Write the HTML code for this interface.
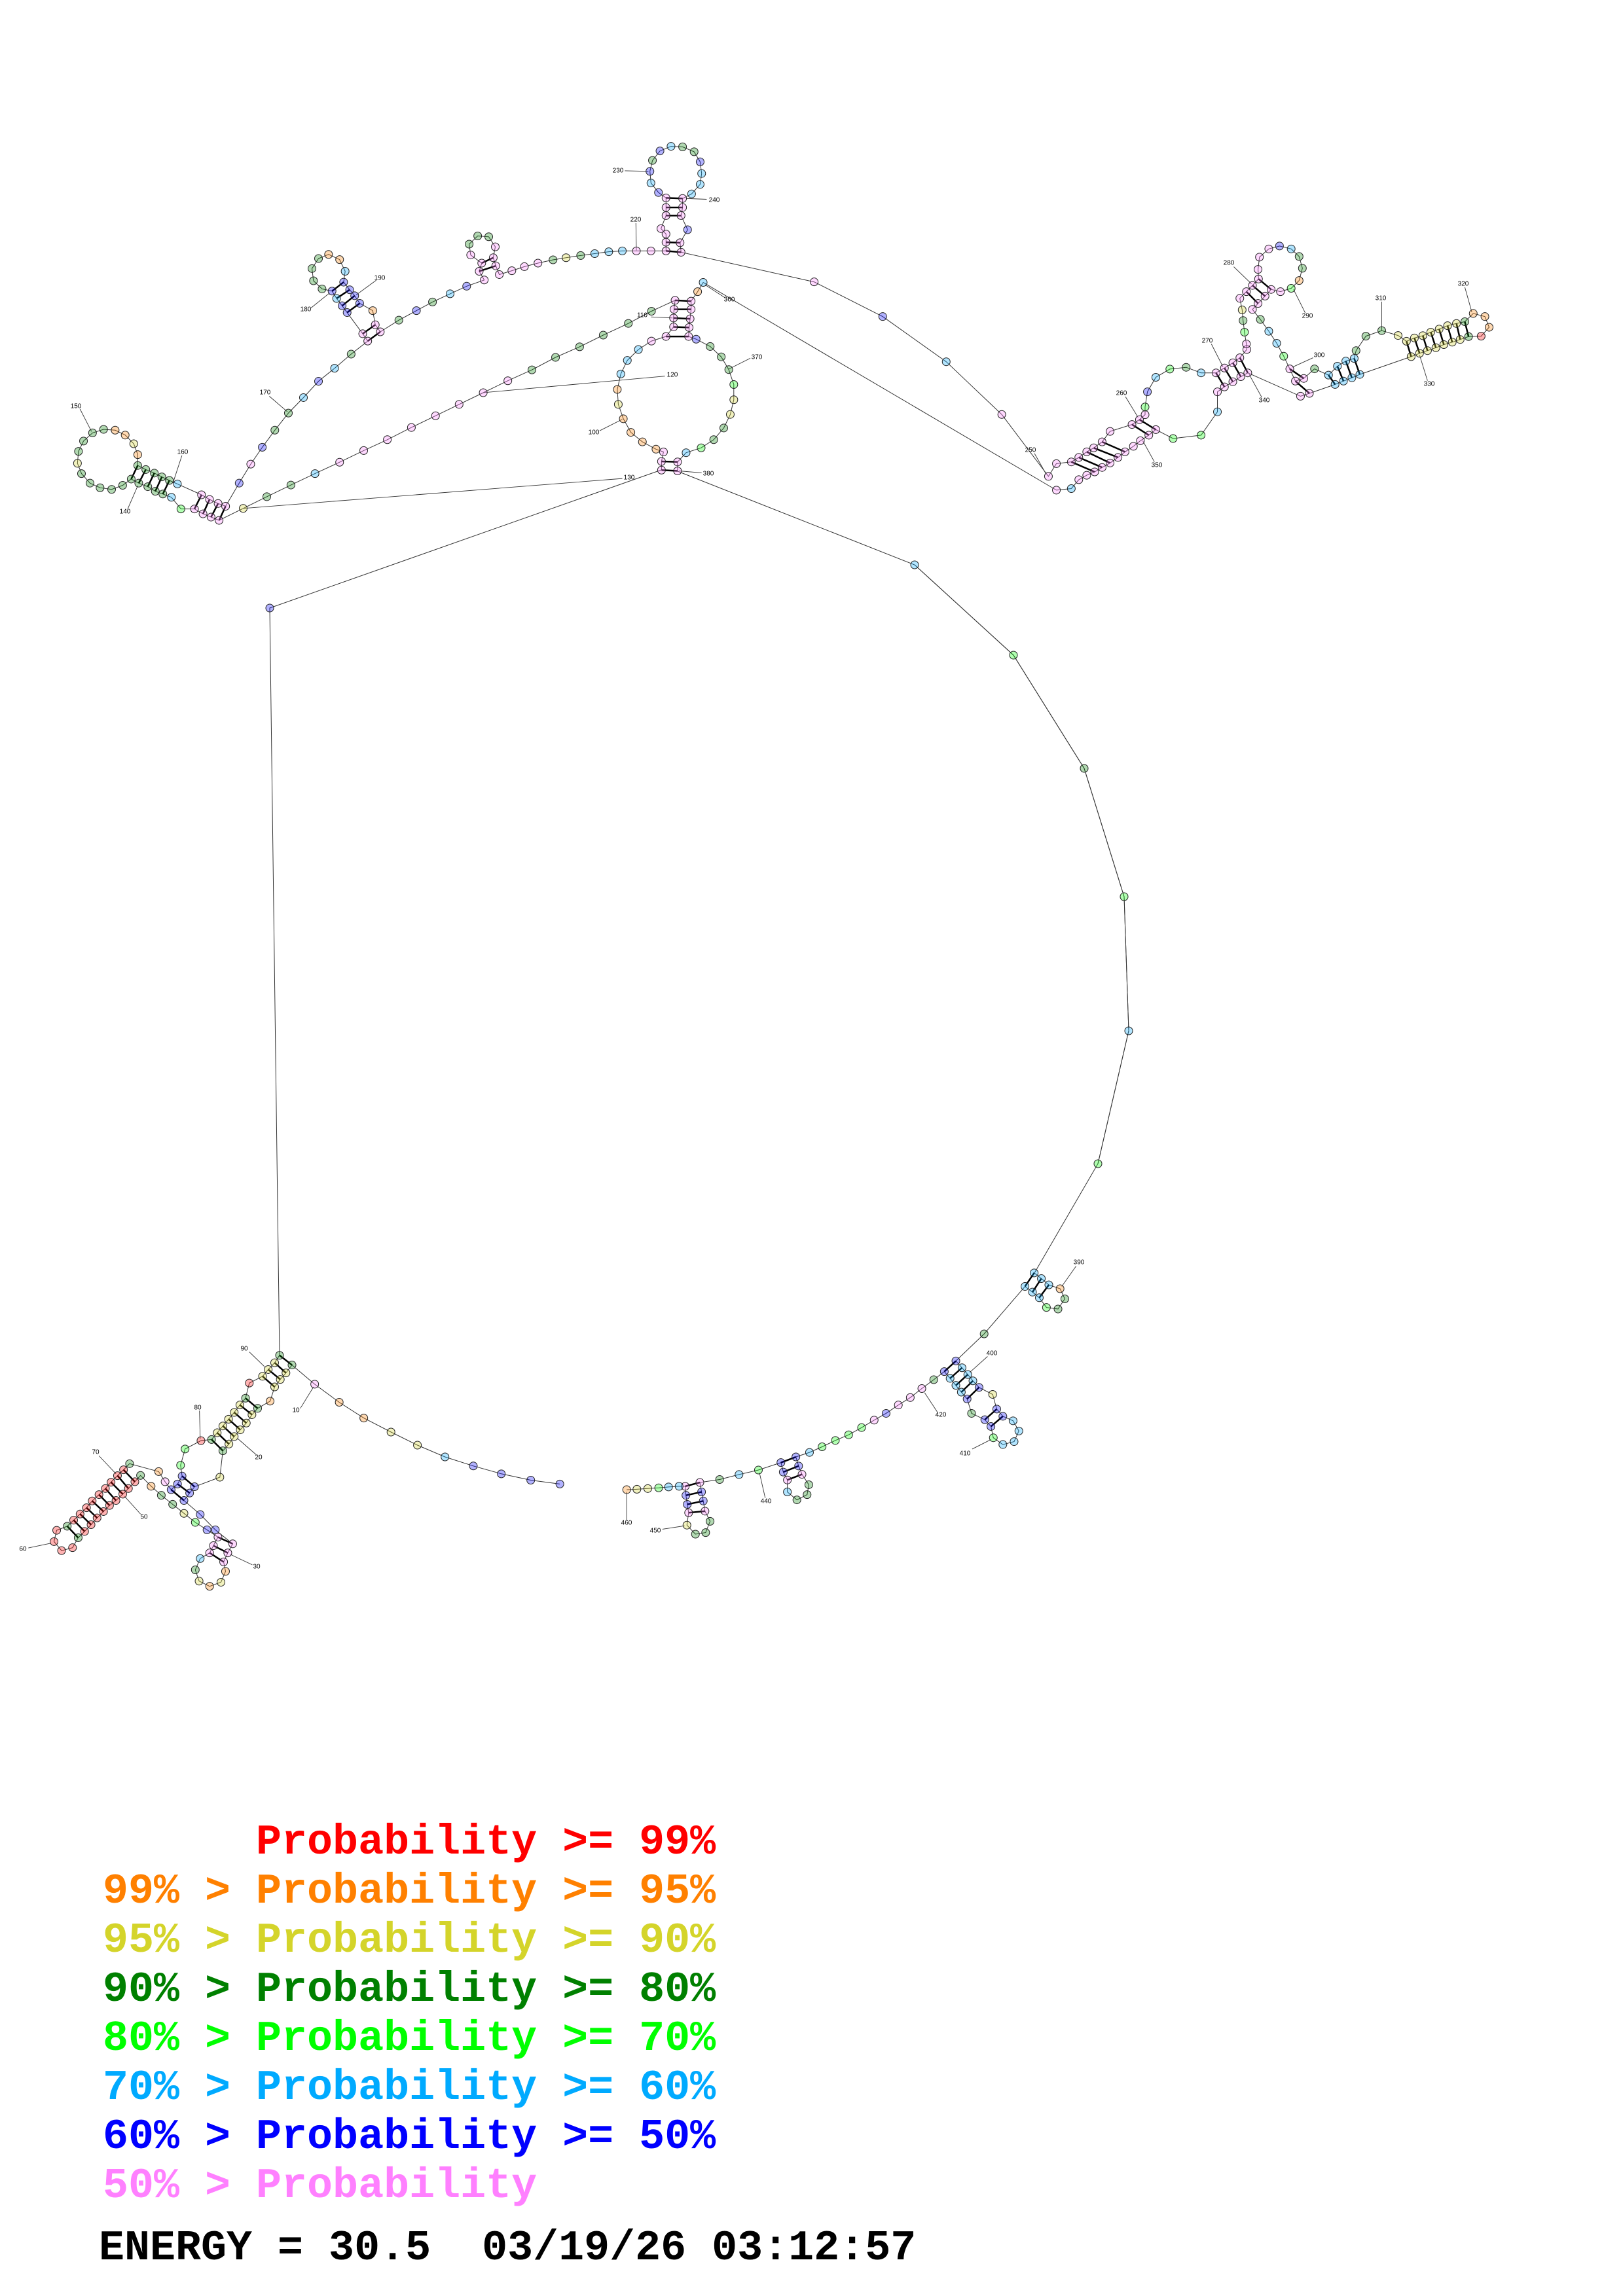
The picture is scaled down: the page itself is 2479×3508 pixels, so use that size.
<!DOCTYPE html>
<html><head><meta charset="utf-8">
<style>
html,body{margin:0;padding:0;background:#fff;}
svg{display:block;}
.lab{font-family:"Liberation Sans",sans-serif;font-size:10px;fill:#000;text-anchor:middle;dominant-baseline:central;}
.leg text{font-family:"Liberation Mono",monospace;font-weight:bold;font-size:65px;white-space:pre;}
</style></head>
<body>
<svg id="s" width="2479" height="3508" viewBox="0 0 2479 3508" xmlns="http://www.w3.org/2000/svg">
<rect width="2479" height="3508" fill="#fff"/>
<g id="lines"></g>
<g id="bonds"></g>
<g id="nodes"></g>
<g id="labels">
<text class="lab" x="373" y="2061">90</text>
<text class="lab" x="302" y="2151">80</text>
<text class="lab" x="146" y="2219">70</text>
<text class="lab" x="35" y="2367">60</text>
<text class="lab" x="220" y="2318">50</text>
<text class="lab" x="395" y="2227">20</text>
<text class="lab" x="452" y="2155">10</text>
<text class="lab" x="392" y="2394">30</text>
<text class="lab" x="944" y="261">230</text>
<text class="lab" x="1091" y="306">240</text>
<text class="lab" x="971" y="336">220</text>
<text class="lab" x="580" y="425">190</text>
<text class="lab" x="467" y="473">180</text>
<text class="lab" x="405" y="600">170</text>
<text class="lab" x="116" y="621">150</text>
<text class="lab" x="279" y="691">160</text>
<text class="lab" x="191" y="782">140</text>
<text class="lab" x="981" y="482">110</text>
<text class="lab" x="1027" y="573">120</text>
<text class="lab" x="907" y="661">100</text>
<text class="lab" x="961" y="730">130</text>
<text class="lab" x="1114" y="458">360</text>
<text class="lab" x="1156" y="546">370</text>
<text class="lab" x="1082" y="724">380</text>
<text class="lab" x="1877" y="402">280</text>
<text class="lab" x="1997" y="483">290</text>
<text class="lab" x="1844" y="521">270</text>
<text class="lab" x="2015" y="543">300</text>
<text class="lab" x="2109" y="456">310</text>
<text class="lab" x="2235" y="434">320</text>
<text class="lab" x="2183" y="587">330</text>
<text class="lab" x="1931" y="612">340</text>
<text class="lab" x="1713" y="601">260</text>
<text class="lab" x="1767" y="711">350</text>
<text class="lab" x="1574" y="688">250</text>
<text class="lab" x="1648" y="1929">390</text>
<text class="lab" x="1515" y="2068">400</text>
<text class="lab" x="1437" y="2162">420</text>
<text class="lab" x="1474" y="2221">410</text>
<text class="lab" x="1170" y="2294">440</text>
<text class="lab" x="1001" y="2339">450</text>
<text class="lab" x="957" y="2327">460</text>
</g>
<g class="leg">
<text xml:space="preserve" x="157" y="2832" fill="#ff0000">      Probability &gt;= 99%</text>
<text xml:space="preserve" x="157" y="2907" fill="#ff8000">99% &gt; Probability &gt;= 95%</text>
<text xml:space="preserve" x="157" y="2982" fill="#d4d42a">95% &gt; Probability &gt;= 90%</text>
<text xml:space="preserve" x="157" y="3057" fill="#008000">90% &gt; Probability &gt;= 80%</text>
<text xml:space="preserve" x="157" y="3132" fill="#00ff00">80% &gt; Probability &gt;= 70%</text>
<text xml:space="preserve" x="157" y="3207" fill="#00aaff">70% &gt; Probability &gt;= 60%</text>
<text xml:space="preserve" x="157" y="3282" fill="#0000ff">60% &gt; Probability &gt;= 50%</text>
<text xml:space="preserve" x="157" y="3357" fill="#ff80ff">50% &gt; Probability</text>
<text xml:space="preserve" x="151" y="3452" fill="#000">ENERGY = 30.5  03/19/26 03:12:57</text>
</g>
</svg>
<script>
(function(){
var NS="http://www.w3.org/2000/svg";
var R={z2:[0,2000,.577,.345],z5:[80,180,.767,.415],z6:[1200,330,.713,.34],z7:[900,1900,.52,.345],A:[0,0,1,1]};
var C={r:"#ff0000",o:"#ff8000",y:"#d4d42a",D:"#008000",g:"#00ff00",c:"#00aaff",b:"#0000ff",p:"#ff80ff"};
function P(reg,x,y){var r=R[reg];return [r[0]+x*r[2],r[1]+y*r[3]];}
var L=document.getElementById("lines"),B=document.getElementById("bonds"),N=document.getElementById("nodes");
function el(p,tag,at){var e=document.createElementNS(NS,tag);for(var k in at)e.setAttribute(k,at[k]);p.appendChild(e);return e;}
function parse(reg,s){return s.trim().split(/\s+/).map(function(t){var a=t.split(",");var q=P(reg,+a[0],+a[1]);return [q[0],q[1],a[2]];});}
function chain(reg,s){
  var pts=parse(reg,s);
  el(L,"polyline",{points:pts.map(function(p){return p[0].toFixed(1)+","+p[1].toFixed(1)}).join(" "),fill:"none",stroke:"#333","stroke-width":"1"});
  pts.forEach(function(p){if(p[2])el(N,"circle",{cx:p[0],cy:p[1],r:6,fill:C[p[2]],"fill-opacity":"0.3",stroke:"#222","stroke-width":"1"});});
}
function bonds(reg,s){
  s.trim().split(/\s+/).forEach(function(t){var a=t.split(",").map(Number);var p=P(reg,a[0],a[1]),q=P(reg,a[2],a[3]);
    el(B,"line",{x1:p[0],y1:p[1],x2:q[0],y2:q[1],stroke:"#000","stroke-width":"2.5"});});
}
function leaders(reg,s){
  s.trim().split(/\s+/).forEach(function(t){var a=t.split(",").map(Number);var p=P(reg,a[0],a[1]),q=P(reg,a[2],a[3]);
    el(L,"line",{x1:p[0],y1:p[1],x2:q[0],y2:q[1],stroke:"#333","stroke-width":"0.9"});});
}
function link(ptsArr){
  el(L,"polyline",{points:ptsArr.map(function(p){return p[0]+","+p[1]}).join(" "),fill:"none",stroke:"#333","stroke-width":"1"});
}
link([[427,2071],[412,929],[1010,718]]);
link([[1035,720],[1397,863],[1548,1001],[1656,1174],[1717,1370],[1724,1575],[1677,1778],[1580,1945]]);
var a=P("z5",1517,604),b=P("z6",208,452);link([a,b]);
a=P("z6",580,1232);b=P("z5",1296,606);link([a,b]);
chain("A","412,929,b");
chain("A","1397,863,c 1548,1001,g 1656,1174,D 1717,1370,g 1724,1575,c 1677,1778,g");

chain("z2","1482,775,b 1405,758,b 1327,730,b 1253,695,b 1178,655,c 1105,603,y 1035,545,y 963,483,o 898,413,o 833,333,p 773,248,D 757,283,y 742,312,y 727,345,y 715,408,o 682,440,D 667,468,y 652,505,y 636,535,y 620,565,y 606,598,y 590,628,D 582,745,y 515,787,b 502,815,b 487,848,b 530,910,b 570,978,b 616,1040,p 603,1080,p 592,1120,p 597,1162,o 585,1210,y 555,1228,o 527,1205,y 517,1155,D 530,1105,c 555,1080,p 565,1048,p 577,1010,p 548,978,b 517,945,g 487,905,y 457,865,D 427,825,D 400,785,o 372,737,D 357,765,r 340,795,r 325,820,r 307,848,r 290,870,r 274,897,r 257,925,r 241,955,r 224,985,r 207,1013,D 192,1057,r 163,1070,r 143,1030,r 150,980,r 178,962,D 195,935,r 212,908,r 229,880,r 244,850,r 262,822,r 279,795,r 294,767,r 311,738,r 327,712,r 343,685,D 420,720,o 437,765,p 453,800,b 470,775,b 482,740,b 478,692,g 490,620,g 532,583,r 560,578,D 575,548,y 590,518,y 605,488,y 620,458,y 635,425,y 650,395,D 660,328,r 695,298,y 710,268,y 727,238,y 740,205,D");
bonds("z2","740,205,773,248 727,238,757,283 710,268,742,312 695,298,727,345 650,395,682,440 635,425,667,468 620,458,652,505 605,488,636,535 590,518,620,565 575,548,606,598 560,578,590,628 482,740,515,787 470,775,502,815 453,800,487,848 577,1010,616,1040 565,1048,603,1080 555,1080,592,1120 327,712,357,765 311,738,340,795 294,767,325,820 279,795,307,848 262,822,290,870 244,850,274,897 229,880,257,925 212,908,241,955 195,935,224,985 178,962,207,1013");
leaders("z2","660,190,700,255 528,450,530,575 262,650,307,730 75,1058,135,1037 372,908,330,830 678,645,630,575 795,440,830,345 668,1133,610,1087");

chain("z5","1213,1297,p 1213,1265,p 1217,1230,p 1202,1220,o 1175,1193,o 1152,1158,o 1137,1108,o 1127,1055,y 1125,1000,o 1132,943,c 1145,893,c 1167,853,c 1193,822,p 1222,805,p 1237,770,p 1237,737,p 1238,705,p 1240,672,p 1193,712,D 1147,757,D 1097,800,D 1050,843,D 1002,882,D 955,928,D 907,968,p 858,1012,p 810,1055,p 763,1097,p 715,1140,p 667,1185,p 620,1225,p 572,1268,p 523,1310,c 475,1352,D 427,1395,D 380,1438,y 332,1482,p 316,1470,p 300,1458,p 283,1440,p 256,1440,g 237,1397,c 220,1385,D 205,1375,D 190,1358,D 172,1345,D 157,1330,D 140,1353,D 118,1368,D 95,1362,D 75,1345,D 58,1310,D 50,1272,y 52,1228,D 62,1190,D 80,1160,D 102,1147,D 125,1150,o 145,1168,o 162,1200,y 170,1240,o 170,1280,D 186,1295,D 203,1308,D 218,1322,D 233,1335,D 249,1348,c 297,1388,p 313,1405,p 330,1420,p 345,1430,p 372,1345,b 395,1275,p 418,1213,b 443,1150,D 470,1087,D 500,1030,c 530,970,b 562,922,c 595,870,D 628,822,p 618,795,p 587,717,b 577,692,b 566,665,c 557,638,b 537,630,D 520,600,D 517,555,D 530,518,D 550,503,o 572,522,o 583,565,c 580,605,b 592,633,b 602,655,b 612,683,b 638,710,o 643,762,p 653,788,p 690,745,D 725,710,b 757,678,D 792,648,c 825,620,b 860,597,p 850,565,p 855,535,p 833,505,p 830,465,D 847,435,D 869,438,D 882,475,p 878,515,p 883,545,p 890,577,p 915,563,p 940,548,p 967,535,p 997,523,D 1023,515,y 1052,507,D 1080,500,c 1108,493,c 1135,490,c 1163,490,p 1192,490,p 1222,490,p 1222,458,p 1222,428,p 1212,408,p 1222,360,p 1222,330,p 1222,295,p 1207,275,b 1192,240,c 1190,197,b 1195,157,D 1210,122,b 1232,105,c 1255,107,D 1278,125,D 1290,162,b 1293,205,c 1290,245,c 1273,280,c 1255,297,p 1255,330,p 1252,360,p 1265,412,b 1250,460,p 1252,495,p 1517,604,p");
chain("z5","1296,606,c 1285,640,o 1272,675,p 1272,705,p 1270,740,p 1268,772,p 1267,805,p 1282,815,b 1310,842,D 1332,880,D 1347,927,D 1357,982,g 1357,1038,y 1350,1092,y 1337,1142,D 1317,1185,D 1292,1215,g 1262,1233,c 1245,1267,p 1245,1300,p");
bonds("z5","1213,1297,1245,1300 1213,1265,1245,1267 1240,672,1272,675 1238,705,1272,705 1237,737,1270,740 1237,770,1268,772 1222,805,1267,805 297,1388,283,1440 313,1405,300,1458 330,1420,316,1470 345,1430,332,1482 170,1280,157,1330 186,1295,172,1345 203,1308,190,1358 218,1322,205,1375 233,1335,220,1385 557,638,580,605 566,665,592,633 577,692,602,655 587,717,612,683 618,795,643,762 628,822,653,788 850,565,883,545 855,535,878,515 1222,490,1252,495 1222,458,1250,460 1222,360,1252,360 1222,330,1255,330 1222,295,1255,297");
leaders("z5","1140,195,1187,197 1303,300,1262,297 1162,388,1163,488 645,598,605,652 515,700,552,645 432,1025,468,1082 55,1072,78,1155 258,1243,240,1345 150,1440,170,1355 1192,733,1235,737 1220,951,858,1012 1090,1152,1135,1110 1135,1328,380,1438 1340,663,1300,615 1390,885,1347,925 1293,1307,1248,1300");

chain("z6","208,452,b 344,655,c 463,892,p 563,1170,p 580,1113,p 612,1105,p 628,1085,p 645,1060,p 660,1042,p 678,1015,p 695,968,p 742,937,p 758,915,p 770,893,p 770,858,g 775,790,b 793,725,c 823,688,g 858,680,D 890,705,c 922,705,p 940,683,p 958,660,p 973,637,p 988,600,p 987,575,p 983,522,g 980,470,D 978,422,y 973,370,p 987,340,p 1000,312,p 1013,283,p 1012,240,p 1015,185,p 1035,148,p 1058,135,b 1083,148,c 1100,182,D 1107,235,D 1100,290,o 1083,325,g 1060,340,p 1040,330,p 1027,360,p 1012,393,p 1000,420,p 1017,465,D 1035,518,c 1052,572,c 1067,630,g 1080,687,p 1092,742,p 1110,730,p 1133,687,D 1163,715,c 1182,675,c 1200,652,c 1218,640,c 1222,605,D 1243,540,D 1277,515,D 1312,537,y 1330,563,y 1347,548,y 1365,538,y 1382,522,y 1400,508,y 1418,493,y 1437,483,y 1455,475,D 1473,438,o 1498,452,o 1507,500,o 1490,540,r 1463,542,D 1445,555,y 1428,567,y 1410,578,y 1393,592,y 1375,605,y 1358,617,y 1340,632,y 1230,712,c 1213,727,c 1195,742,c 1177,757,c 1122,797,p 1103,810,p 990,705,p 975,722,p 958,745,p 940,768,p 925,790,p 925,880,c 890,985,g 830,1000,g 793,960,p 778,985,p 760,1010,p 745,1035,p 727,1060,p 712,1085,p 695,1110,p 678,1130,p 662,1150,p 645,1165,p 628,1185,p 612,1225,c 580,1232,p");
bonds("z6","742,937,778,985 758,915,793,960 678,1015,727,1060 660,1042,712,1085 645,1060,695,1110 628,1085,678,1130 612,1105,662,1150 922,705,940,768 940,683,958,745 958,660,975,722 973,637,990,705 987,340,1012,393 1000,312,1027,360 1013,283,1040,330 1080,687,1110,730 1092,742,1122,797 1163,715,1177,757 1182,675,1195,742 1200,652,1213,727 1218,640,1230,712 1330,563,1340,632 1347,548,1358,617 1365,538,1375,605 1382,522,1393,592 1400,508,1410,578 1418,493,1428,567 1437,483,1445,555 1455,475,1463,542");
leaders("z6","960,228,998,305 1113,435,1088,330 912,575,937,678 1130,637,1085,680 1277,385,1277,515 1455,320,1470,432 1375,740,1358,625 1020,815,993,712 728,812,755,905 790,1105,765,1010 533,1067,558,1160");

chain("z7","1307,130,c 1328,155,c 1350,183,c 1383,200,o 1397,245,D 1377,290,D 1343,283,g 1322,240,c 1302,215,c 1280,190,c 1160,400,D 1077,520,b 1095,550,c 1112,580,c 1127,608,c 1145,637,b 1185,668,y 1197,733,b 1215,765,b 1245,785,c 1262,830,c 1248,877,c 1215,890,c 1187,860,g 1180,810,b 1162,780,b 1123,752,D 1110,688,b 1093,658,c 1077,628,c 1060,597,c 1043,567,b 1012,603,D 977,642,p 943,682,p 908,715,p 872,752,b 837,782,p 800,815,g 762,847,g 723,872,g 684,900,g 647,925,c 607,945,b 615,985,b 625,1022,p 645,1068,D 640,1112,D 610,1135,D 582,1100,c 582,1047,p 570,1012,b 563,970,b 497,1003,g 440,1023,c 383,1045,D 325,1058,p 330,1100,b 335,1140,b 340,1185,p 355,1230,D 342,1280,D 312,1287,D 287,1247,y 292,1192,p 288,1155,b 284,1115,b 282,1075,p 264,1075,c 233,1078,c 204,1082,g 172,1085,y 140,1088,y 110,1090,o");
bonds("z7","1307,130,1280,190 1328,155,1302,215 1350,183,1322,240 1077,520,1043,567 1095,550,1060,597 1112,580,1077,628 1127,608,1093,658 1145,637,1110,688 1197,733,1162,780 1215,765,1180,810 607,945,563,970 615,985,570,1012 625,1022,582,1047 325,1058,282,1075 330,1100,284,1115 335,1140,288,1155 340,1185,292,1192");
leaders("z7","1430,100,1388,190 1170,500,1118,570 1022,745,985,660 1125,910,1180,868 517,1127,500,1015 215,1265,280,1250 110,1225,110,1100");
})();
</script>
</body></html>
